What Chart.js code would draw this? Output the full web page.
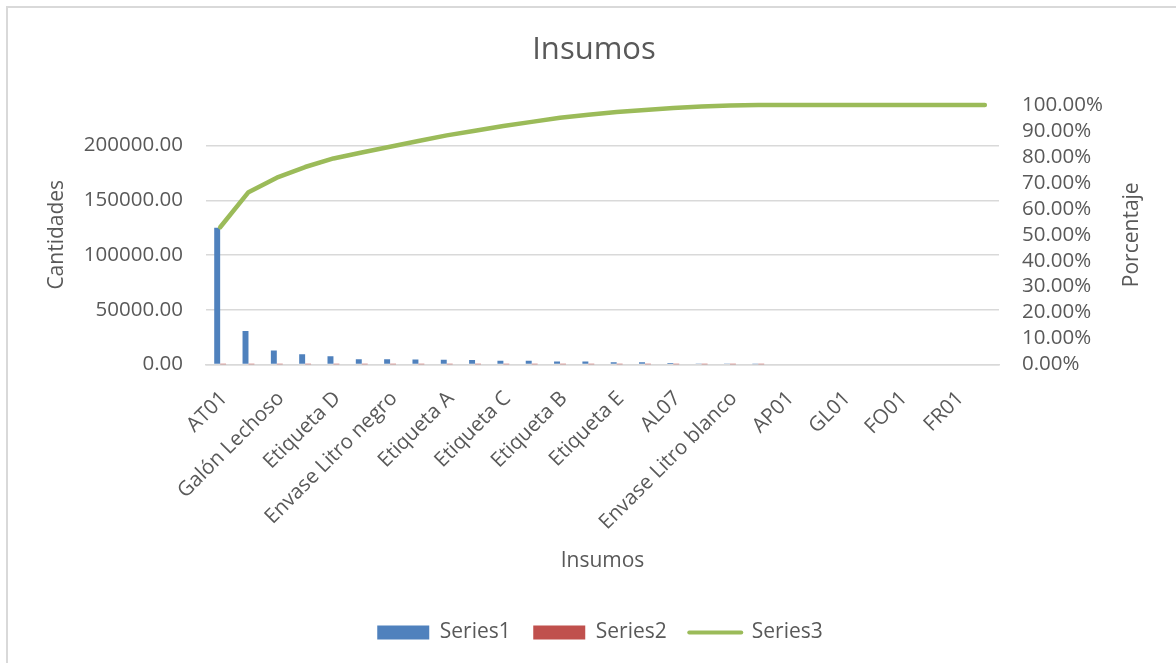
<!DOCTYPE html>
<html>
<head>
<meta charset="utf-8">
<script src="https://cdn.jsdelivr.net/npm/chart.js@4.4.1/dist/chart.umd.min.js"></script>
<style>
  body { margin: 0; background: #fff; }
  #wrap { width: 1176px; height: 663px; position: relative; }
</style>
</head>
<body>
<div id="wrap"><canvas id="myChart"></canvas></div>
<script>
// only every other category name is printed on the axis, the rest are unknown
const categories = ['AT01', '', 'Galón Lechoso', '', 'Etiqueta D', '', 'Envase Litro negro', '',
    'Etiqueta A', '', 'Etiqueta C', '', 'Etiqueta B', '', 'Etiqueta E', '', 'AL07', '',
    'Envase Litro blanco', '', 'AP01', '', 'GL01', '', 'FO01', '', 'FR01', ''];
const cantidades = [125000, 30500, 12800, 9450, 7600, 4900, 4900, 4600, 4300, 4000, 3400, 3400,
    2700, 2700, 2100, 2000, 1300, 1000, 400, 200, 0, 0, 0, 0, 0, 0, 0, 0];
const porcentajes = [0.529, 0.135, 0.056, 0.041, 0.033, 0.023, 0.022, 0.022, 0.022, 0.018, 0.018,
    0.016, 0.016, 0.011, 0.011, 0.008, 0.007, 0.006, 0.004, 0.002, 0, 0, 0, 0, 0, 0, 0, 0];
const acumulado = [0.529, 0.664, 0.720, 0.761, 0.794, 0.817, 0.839, 0.861, 0.883, 0.901, 0.919,
    0.935, 0.951, 0.962, 0.973, 0.981, 0.988, 0.994, 0.998, 1, 1, 1, 1, 1, 1, 1, 1, 1];
const leftTicks = [0, 50000, 100000, 150000, 200000];

const textColor = '#595959';
const gridColor = '#d9d9d9';
Chart.defaults.font.family = "'Open Sans', sans-serif";
Chart.defaults.color = textColor;

const frame = {
    id: 'frame',
    beforeDraw(chart) {
        const c = chart.ctx;
        c.save();
        c.fillStyle = '#fff';
        c.fillRect(0, 0, chart.width, chart.height);
        c.strokeStyle = gridColor;
        c.lineWidth = 2;
        c.beginPath();
        c.moveTo(7, chart.height);
        c.lineTo(7, 7);
        c.lineTo(chart.width, 7);
        c.stroke();
        c.restore();
    },
    afterLayout(chart) {
        // nudge the legend a little right, like the original
        chart.legend.left += 6;
        chart.legend.right += 6;
    }
};

// Excel writes the right axis title bottom-to-top
const rightTitle = {
    id: 'rightTitle',
    afterDraw(chart) {
        const c = chart.ctx;
        const a = chart.chartArea;
        c.save();
        c.translate(1132, (a.top + a.bottom) / 2);
        c.rotate(-Math.PI / 2);
        c.font = "21px 'Open Sans'";
        c.fillStyle = textColor;
        c.textAlign = 'center';
        c.textBaseline = 'middle';
        c.fillText('Porcentaje', 0, 0);
        c.restore();
    }
};

const ctx = document.getElementById('myChart').getContext('2d');
const chart = new Chart(ctx, {
    data: {
        labels: categories,
        datasets: [{
            type: 'bar',
            label: 'Series1',
            data: cantidades,
            backgroundColor: '#4f81bd',
            yAxisID: 'y',
            categoryPercentage: 0.42,
            barPercentage: 1,
            inflateAmount: 0,
            order: 1
        }, {
            type: 'bar',
            label: 'Series2',
            data: porcentajes,
            backgroundColor: '#c0504d',
            yAxisID: 'y',
            categoryPercentage: 0.42,
            barPercentage: 1,
            inflateAmount: 0,
            order: 1
        }, {
            type: 'line',
            label: 'Series3',
            data: acumulado,
            borderColor: '#9bbb59',
            backgroundColor: '#9bbb59',
            borderWidth: 4.5,
            borderCapStyle: 'round',
            borderJoinStyle: 'round',
            pointRadius: 0,
            tension: 0,
            clip: false,
            yAxisID: 'y1',
            order: 0
        }]
    },
    options: {
        responsive: true,
        maintainAspectRatio: false,
        animation: false,
        layout: { padding: { left: 12, right: 0, top: 0, bottom: 10 } },
        scales: {
            x: {
                offset: true,
                grid: { display: false },
                border: { color: gridColor, width: 1.5 },
                ticks: {
                    autoSkip: false,
                    minRotation: 45,
                    maxRotation: 45,
                    padding: 14,
                    labelOffset: 4,
                    font: { size: 20.5 }
                },
                title: {
                    display: true,
                    text: 'Insumos',
                    font: { size: 21 },
                    padding: { top: 0, bottom: 25.4 }
                },
                afterFit: function (scale) {
                    scale.height = 235;
                }
            },
            y: {
                position: 'left',
                min: 0,
                max: 237000,
                afterBuildTicks: function (scale) {
                    scale.ticks = leftTicks.map(v => ({ value: v }));
                },
                afterFit: function (scale) {
                    scale.width = 194;
                },
                ticks: {
                    padding: 23,
                    font: { size: 20.5 },
                    callback: function (value) {
                        return value.toFixed(2);
                    }
                },
                grid: { color: gridColor, lineWidth: 1.5, drawTicks: false },
                border: { display: false },
                title: {
                    display: true,
                    text: 'Cantidades',
                    font: { size: 21 },
                    padding: { top: 32, bottom: 0 }
                }
            },
            y1: {
                position: 'right',
                min: 0,
                max: 1,
                ticks: {
                    stepSize: 0.1,
                    autoSkip: false,
                    padding: 23,
                    font: { size: 20.5 },
                    callback: function (value) {
                        return (value * 100).toFixed(2) + '%';
                    }
                },
                grid: { display: false, drawTicks: false },
                border: { display: false },
                afterFit: function (scale) {
                    scale.width = 177;
                }
            }
        },
        plugins: {
            title: {
                display: true,
                text: 'Insumos',
                font: { size: 31, weight: 'normal' },
                color: textColor,
                padding: { top: 31.4, bottom: 36.4 }
            },
            legend: {
                position: 'bottom',
                labels: {
                    usePointStyle: true,
                    pointStyleWidth: 52,
                    boxHeight: 14,
                    padding: 22.5,
                    font: { size: 21 },
                    sort: (a, b) => a.datasetIndex - b.datasetIndex,
                    generateLabels: function (chart) {
                        const items = Chart.defaults.plugins.legend.labels.generateLabels(chart);
                        items.forEach(it => {
                            const ds = chart.data.datasets[it.datasetIndex];
                            if (ds.type === 'line') {
                                it.pointStyle = 'line';
                                it.lineWidth = 4;
                                it.strokeStyle = ds.borderColor;
                                it.lineCap = 'round';
                            } else {
                                it.pointStyle = 'rect';
                                it.lineWidth = 0;
                                it.fillStyle = ds.backgroundColor;
                            }
                        });
                        return items;
                    }
                }
            },
            tooltip: { enabled: false }
        }
    },
    plugins: [frame, rightTitle]
});
</script>
</body>
</html>
